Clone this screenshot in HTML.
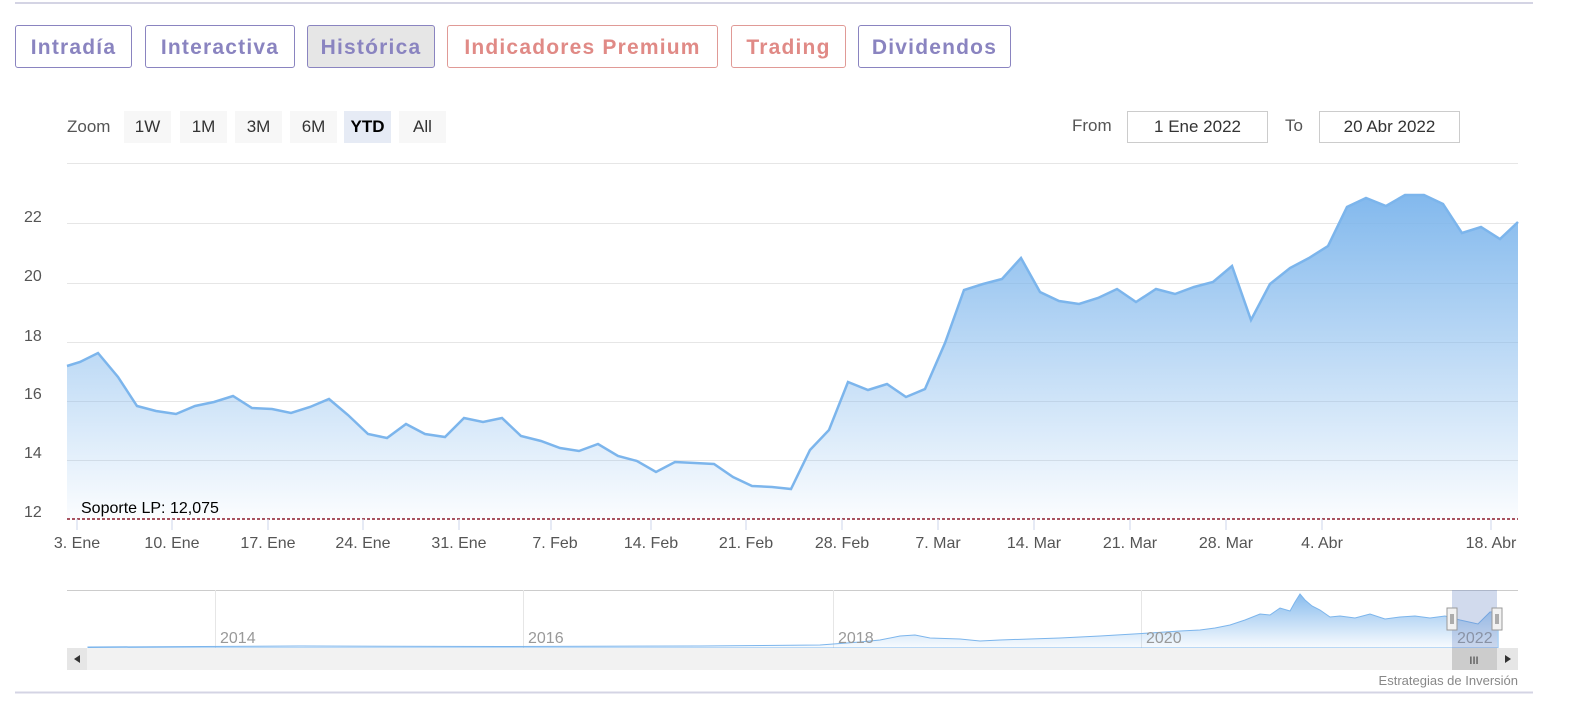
<!DOCTYPE html>
<html><head><meta charset="utf-8"><style>
body{margin:0;width:1580px;height:715px;background:#fff;font-family:"Liberation Sans",sans-serif;position:relative;overflow:hidden}
.tab{position:absolute;top:25px;height:43px;border:1px solid;border-radius:3px;font-weight:bold;font-size:21px;letter-spacing:1.2px;line-height:43px;text-align:center;box-sizing:border-box}
.p{color:#8a84c0;border-color:#8a84c0}.r{color:#e08a86;border-color:#e09a96}
.zb{position:absolute;top:111px;height:32px;line-height:32px;background:#f7f7f7;font-size:17px;color:#333;text-align:center}
.in{position:absolute;top:111px;height:32px;border:1px solid #ccc;box-sizing:border-box;font-size:17px;line-height:30px;text-align:center;color:#333}
</style></head><body>
<div style="position:absolute;left:15px;top:2px;width:1518px;height:2px;background:#d4d4e4"></div>
<div class="tab p" style="left:15px;width:117px">Intradía</div>
<div class="tab p" style="left:145px;width:150px">Interactiva</div>
<div class="tab p" style="left:307px;width:128px;background:#e6e6e6">Histórica</div>
<div class="tab r" style="left:447px;width:271px">Indicadores Premium</div>
<div class="tab r" style="left:731px;width:115px">Trading</div>
<div class="tab p" style="left:858px;width:153px">Dividendos</div>
<div style="position:absolute;left:67px;top:117px;font-size:17px;color:#555">Zoom</div>
<div class="zb" style="left:124px;width:47px">1W</div>
<div class="zb" style="left:180px;width:47px">1M</div>
<div class="zb" style="left:235px;width:47px">3M</div>
<div class="zb" style="left:290px;width:47px">6M</div>
<div class="zb" style="left:344px;width:47px;background:#e6ebf5;font-weight:bold;color:#000">YTD</div>
<div class="zb" style="left:399px;width:47px">All</div>
<div style="position:absolute;left:1072px;top:116px;font-size:17px;color:#555">From</div>
<div class="in" style="left:1127px;width:141px">1 Ene 2022</div>
<div style="position:absolute;left:1285px;top:116px;font-size:17px;color:#555">To</div>
<div class="in" style="left:1319px;width:141px">20 Abr 2022</div>
<svg width="1580" height="715" style="position:absolute;left:0;top:0" font-family="Liberation Sans,sans-serif">
<defs><linearGradient id="g" x1="0" y1="0" x2="0" y2="1"><stop offset="0" stop-color="#7cb5ec" stop-opacity="0.95"/><stop offset="1" stop-color="#7cb5ec" stop-opacity="0.03"/></linearGradient>
<linearGradient id="g2" x1="0" y1="0" x2="0" y2="1"><stop offset="0" stop-color="#7cb5ec" stop-opacity="0.9"/><stop offset="1" stop-color="#7cb5ec" stop-opacity="0.05"/></linearGradient></defs>
<g stroke="#e6e6e6" stroke-width="1">
<line x1="67" x2="1518" y1="163.5" y2="163.5"/><line x1="67" x2="1518" y1="223.5" y2="223.5"/><line x1="67" x2="1518" y1="283.5" y2="283.5"/><line x1="67" x2="1518" y1="342.5" y2="342.5"/><line x1="67" x2="1518" y1="401.5" y2="401.5"/><line x1="67" x2="1518" y1="460.5" y2="460.5"/></g>
<g font-size="16" fill="#555"><text x="24" y="222">22</text><text x="24" y="281">20</text><text x="24" y="341">18</text><text x="24" y="399">16</text><text x="24" y="458">14</text><text x="24" y="517">12</text></g>
<path d="M67,366 L80,362 L98,353 L118,377 L137,406 L156,411 L176,414 L195,406 L214,402 L233,396 L252,408 L272,409 L291,413 L310,407 L329,399 L348,415 L368,434 L387,438 L406,424 L425,434 L445,437 L464,418 L483,422 L502,418 L521,436 L541,441 L560,448 L579,451 L598,444 L618,456 L637,461 L656,472 L675,462 L695,463 L714,464 L733,477 L752,486 L772,487 L791,489 L810,450 L829,430 L848,382 L868,390 L887,384 L906,397 L925,389 L945,343 L964,290 L983,284 L1002,279 L1021,258 L1040,292 L1059,301 L1079,304 L1098,298 L1117,289 L1136,302 L1156,289 L1175,294 L1194,287 L1213,282 L1232,266 L1251,320 L1270,284 L1290,268 L1309,258 L1328,246 L1347,207 L1366,198 L1386,206 L1405,195 L1424,195 L1443,204 L1462,233 L1481,227 L1500,239 L1518,222 L1518,519 L67,519Z" fill="url(#g)"/>
<path d="M67,366 L80,362 L98,353 L118,377 L137,406 L156,411 L176,414 L195,406 L214,402 L233,396 L252,408 L272,409 L291,413 L310,407 L329,399 L348,415 L368,434 L387,438 L406,424 L425,434 L445,437 L464,418 L483,422 L502,418 L521,436 L541,441 L560,448 L579,451 L598,444 L618,456 L637,461 L656,472 L675,462 L695,463 L714,464 L733,477 L752,486 L772,487 L791,489 L810,450 L829,430 L848,382 L868,390 L887,384 L906,397 L925,389 L945,343 L964,290 L983,284 L1002,279 L1021,258 L1040,292 L1059,301 L1079,304 L1098,298 L1117,289 L1136,302 L1156,289 L1175,294 L1194,287 L1213,282 L1232,266 L1251,320 L1270,284 L1290,268 L1309,258 L1328,246 L1347,207 L1366,198 L1386,206 L1405,195 L1424,195 L1443,204 L1462,233 L1481,227 L1500,239 L1518,222" fill="none" stroke="#7cb5ec" stroke-width="2.5"/>
<line x1="67" x2="1518" y1="519" y2="519" stroke="#8b1a2b" stroke-width="1.5" stroke-dasharray="3,2"/>
<text x="81" y="513" font-size="16" fill="#000">Soporte LP: 12,075</text>
<g stroke="#ccd6eb"><line x1="77" x2="77" y1="519" y2="530"/><line x1="172" x2="172" y1="519" y2="530"/><line x1="268" x2="268" y1="519" y2="530"/><line x1="363" x2="363" y1="519" y2="530"/><line x1="459" x2="459" y1="519" y2="530"/><line x1="551" x2="551" y1="519" y2="530"/><line x1="651" x2="651" y1="519" y2="530"/><line x1="746" x2="746" y1="519" y2="530"/><line x1="842" x2="842" y1="519" y2="530"/><line x1="938" x2="938" y1="519" y2="530"/><line x1="1034" x2="1034" y1="519" y2="530"/><line x1="1130" x2="1130" y1="519" y2="530"/><line x1="1226" x2="1226" y1="519" y2="530"/><line x1="1322" x2="1322" y1="519" y2="530"/><line x1="1491" x2="1491" y1="519" y2="530"/></g>
<g font-size="16" fill="#555" text-anchor="middle"><text x="77" y="548">3. Ene</text><text x="172" y="548">10. Ene</text><text x="268" y="548">17. Ene</text><text x="363" y="548">24. Ene</text><text x="459" y="548">31. Ene</text><text x="555" y="548">7. Feb</text><text x="651" y="548">14. Feb</text><text x="746" y="548">21. Feb</text><text x="842" y="548">28. Feb</text><text x="938" y="548">7. Mar</text><text x="1034" y="548">14. Mar</text><text x="1130" y="548">21. Mar</text><text x="1226" y="548">28. Mar</text><text x="1322" y="548">4. Abr</text><text x="1491" y="548">18. Abr</text></g>
<line x1="67" x2="1518" y1="590.5" y2="590.5" stroke="#ccc"/>
<g stroke="#e6e6e6"><line x1="215.5" x2="215.5" y1="590" y2="648"/><line x1="523.5" x2="523.5" y1="590" y2="648"/><line x1="833.5" x2="833.5" y1="590" y2="648"/><line x1="1141.5" x2="1141.5" y1="590" y2="648"/></g>
<path d="M88,647 L300,646 L500,646.5 L700,646 L820,645 L860,642 L880,640 L900,636 L915,635 L930,638 L960,639 L980,641 L1000,640 L1030,639 L1060,638 L1080,637 L1100,636 L1150,633 L1180,631 L1200,630 L1215,628 L1230,625 L1245,620 L1260,614 L1270,615 L1280,608 L1290,611 L1295,602 L1300,594 L1305,600 L1312,606 L1320,610 L1330,617 L1340,616 L1355,618 L1370,614 L1385,619 L1400,617 L1415,616 L1430,618 L1445,616 L1460,620 L1478,624 L1490,612 L1498,612 L1498,648 L88,648Z" fill="url(#g2)" stroke="#7cb5ec" stroke-width="1"/>
<g font-size="16" fill="#999"><text x="220" y="643">2014</text><text x="528" y="643">2016</text><text x="838" y="643">2018</text><text x="1146" y="643">2020</text><text x="1457" y="643">2022</text></g>
<rect x="1452" y="590" width="45" height="58" fill="#6685c2" fill-opacity="0.3"/>
<rect x="67" y="648" width="1451" height="22" fill="#f2f2f2"/>
<rect x="67" y="648" width="20" height="22" fill="#e6e6e6"/><path d="M74,655 L80,659 L74,663Z" fill="#333" transform="rotate(180 77 659)"/>
<rect x="1452" y="648" width="45" height="22" fill="#ccc"/>
<text x="1474" y="664" font-size="11" fill="#333" text-anchor="middle">III</text>
<rect x="1497" y="648" width="21" height="22" fill="#e6e6e6"/><path d="M1505,655 L1511,659 L1505,663Z" fill="#333"/>
<rect x="1447" y="608" width="10" height="22" fill="#f2f2f2" stroke="#999"/><rect x="1492" y="608" width="10" height="22" fill="#f2f2f2" stroke="#999"/>
<g stroke="#666"><line x1="1451" x2="1451" y1="614" y2="624"/><line x1="1453" x2="1453" y1="614" y2="624"/><line x1="1496" x2="1496" y1="614" y2="624"/><line x1="1498" x2="1498" y1="614" y2="624"/></g>
<text x="1518" y="685" font-size="13" fill="#888" text-anchor="end">Estrategias de Inversión</text>
<line x1="15" x2="1533" y1="692.5" y2="692.5" stroke="#d4d4e4" stroke-width="2"/>
</svg>
</body></html>
